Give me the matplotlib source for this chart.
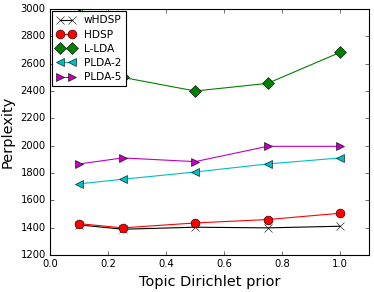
import numpy as np
import matplotlib
matplotlib.use("Agg")
import matplotlib.pyplot as plt

plt.style.use("classic")

# Topic Dirichlet prior values
priors = [0.1, 0.25, 0.5, 0.75, 1.0]

# perplexity per model
whdsp = [1420, 1388, 1403, 1398, 1410]
hdsp = [1429, 1398, 1434, 1459, 1505]
llda = [3030, 2500, 2400, 2456, 2683]
plda2 = [1720, 1754, 1807, 1866, 1910]
plda5 = [1866, 1910, 1883, 1995, 1995]

series = [
    ("wHDSP", whdsp, "k", "x"),
    ("HDSP", hdsp, "r", "o"),
    ("L-LDA", llda, "g", "D"),
    ("PLDA-2", plda2, "c", "<"),
    ("PLDA-5", plda5, "m", ">"),
]

fig = plt.figure(figsize=(374 / 80, 292 / 80), dpi=80)
ax = fig.add_axes([0.134, 0.127, 0.853, 0.842])

for name, vals, col, mk in series:
    ax.plot(priors, vals, color=col, marker=mk, markerfacecolor=col,
            markersize=8, linewidth=1, label=name)

ax.set_xlim(0, 1.1)
ax.set_ylim(1200, 3000)
ax.set_xticks(np.arange(0, 1.01, 0.2))
ax.set_yticks(np.arange(1200, 3001, 200))
ax.tick_params(labelsize=9)
ax.set_xlabel("Topic Dirichlet prior", fontsize=13)
ax.set_ylabel("Perplexity", fontsize=13)
ax.legend(loc="upper left", fontsize=9.5, numpoints=2, labelspacing=0.4,
          borderaxespad=0.2, handlelength=1.8)

fig.savefig("out.png", dpi=80)
